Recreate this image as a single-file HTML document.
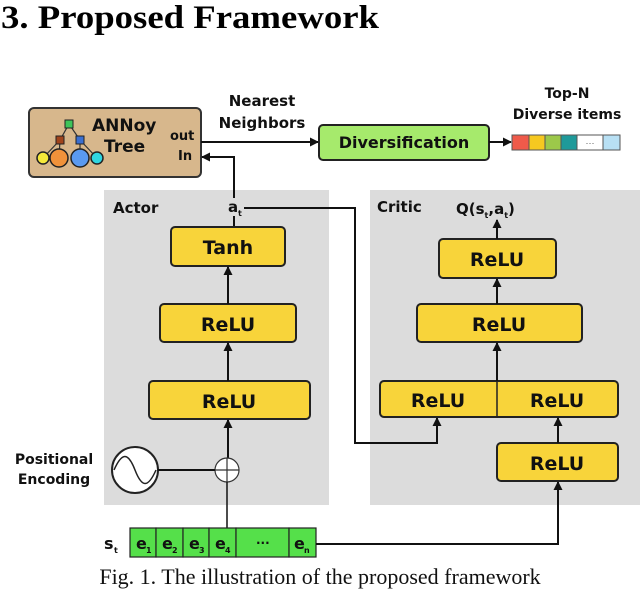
<!DOCTYPE html>
<html><head><meta charset="utf-8"><style>
html,body{margin:0;padding:0;background:#fff;}
svg{display:block;}
.t{font-family:"DejaVu Sans","Liberation Sans",sans-serif;font-weight:bold;fill:#111;}
.box{fill:#f8d43a;stroke:#222;stroke-width:2;}
</style></head><body>
<svg width="640" height="591" viewBox="0 0 640 591" xmlns="http://www.w3.org/2000/svg">
<defs>
<marker id="ah" markerWidth="9" markerHeight="9" refX="8" refY="4.5" orient="auto" markerUnits="userSpaceOnUse">
<path d="M0,0 L9,4.5 L0,9 Z" fill="#111"/></marker>
</defs>
<text x="1" y="28" font-family="Liberation Serif,serif" font-weight="bold" font-size="33" textLength="378" lengthAdjust="spacingAndGlyphs">3. Proposed Framework</text>

<!-- panels -->
<rect x="104" y="190" width="225" height="315" fill="#dcdcdc"/>
<rect x="370" y="190" width="270" height="315" fill="#dcdcdc"/>

<!-- ANNoy -->
<rect x="29" y="108" width="172" height="69" rx="5" fill="#d7b78c" stroke="#333" stroke-width="2"/>
<g stroke="#333" stroke-width="1.2">
<line x1="69" y1="124" x2="60" y2="140"/><line x1="69" y1="124" x2="80" y2="140"/>
<line x1="60" y1="140" x2="43" y2="158"/><line x1="60" y1="140" x2="59" y2="158"/>
<line x1="80" y1="140" x2="80" y2="158"/><line x1="80" y1="140" x2="97" y2="158"/>
</g>
<rect x="65" y="120" width="8" height="8" fill="#3dc45a" stroke="#222"/>
<rect x="56" y="136" width="8" height="8" fill="#a0441c" stroke="#222"/>
<rect x="76" y="136" width="8" height="8" fill="#3a6fd0" stroke="#222"/>
<circle cx="43" cy="158" r="6" fill="#f5e83a" stroke="#222" stroke-width="1.5"/>
<circle cx="59" cy="158" r="9" fill="#f0923a" stroke="#222" stroke-width="1.5"/>
<circle cx="80" cy="158" r="9" fill="#5a9af0" stroke="#222" stroke-width="1.5"/>
<circle cx="97" cy="158" r="6" fill="#2fd6e0" stroke="#222" stroke-width="1.5"/>
<text class="t" x="92" y="131" font-size="17">ANNoy</text>
<text class="t" x="104" y="152" font-size="17">Tree</text>
<text class="t" x="170" y="140" font-size="13">out</text>
<text class="t" x="178" y="160" font-size="13">In</text>

<text class="t" x="262" y="106" font-size="15" text-anchor="middle">Nearest</text>
<text class="t" x="262" y="128" font-size="15" text-anchor="middle">Neighbors</text>
<line x1="201" y1="142" x2="318" y2="142" stroke="#111" stroke-width="2" marker-end="url(#ah)"/>
<rect x="319" y="125" width="170" height="35" rx="4" fill="#a6ea6c" stroke="#222" stroke-width="2"/>
<text class="t" x="404" y="148" font-size="16" text-anchor="middle">Diversification</text>
<line x1="489" y1="142" x2="511" y2="142" stroke="#111" stroke-width="2" marker-end="url(#ah)"/>
<text class="t" x="567" y="98" font-size="14" text-anchor="middle" font-family="Liberation Sans,sans-serif">Top-N</text>
<text class="t" x="567" y="119" font-size="14" text-anchor="middle" font-family="Liberation Sans,sans-serif">Diverse items</text>
<g stroke="#555" stroke-width="1">
<rect x="512" y="135" width="17" height="15" fill="#ef5a4a"/>
<rect x="529" y="135" width="16" height="15" fill="#f6c820"/>
<rect x="545" y="135" width="16" height="15" fill="#9cc84a"/>
<rect x="561" y="135" width="16" height="15" fill="#1f9a9a"/>
<rect x="577" y="135" width="26" height="15" fill="#fff"/>
<rect x="603" y="135" width="17" height="15" fill="#b8e0f4"/>
</g>
<text x="590" y="146" font-size="9" text-anchor="middle" fill="#555" font-family="Liberation Sans,sans-serif">···</text>

<!-- in arrow -->
<polyline points="234,198 234,157 202,157" fill="none" stroke="#111" stroke-width="2" marker-end="url(#ah)"/>

<!-- actor -->
<text class="t" x="113" y="213" font-size="15">Actor</text>
<text class="t" x="228" y="212" font-size="15">a</text><text class="t" x="238" y="216" font-size="8">t</text>
<line x1="234" y1="216" x2="234" y2="227" stroke="#111" stroke-width="2"/>
<polyline points="244,208 355,208 355,443 437,443 437,418" fill="none" stroke="#111" stroke-width="2" marker-end="url(#ah)"/>
<rect class="box" x="171" y="227" width="114" height="39" rx="4"/>
<text class="t" x="228" y="254" font-size="19" text-anchor="middle">Tanh</text>
<rect class="box" x="160" y="304" width="136" height="38" rx="4"/>
<text class="t" x="228" y="331" font-size="19" text-anchor="middle">ReLU</text>
<rect class="box" x="149" y="381" width="161" height="38" rx="4"/>
<text class="t" x="229" y="408" font-size="19" text-anchor="middle">ReLU</text>
<line x1="228" y1="304" x2="228" y2="267" stroke="#111" stroke-width="2" marker-end="url(#ah)"/>
<line x1="228" y1="381" x2="228" y2="343" stroke="#111" stroke-width="2" marker-end="url(#ah)"/>
<line x1="228" y1="458" x2="228" y2="420" stroke="#111" stroke-width="2" marker-end="url(#ah)"/>
<circle cx="227" cy="470" r="12" fill="#fff" stroke="#333" stroke-width="1.2"/>
<path d="M215,470 H239 M227,458 V482" stroke="#333" stroke-width="1.2"/>
<line x1="227" y1="482" x2="227" y2="528" stroke="#111" stroke-width="1.5"/>
<circle cx="135" cy="470" r="23" fill="#fff" stroke="#222" stroke-width="2"/>
<path d="M114,470 C122,452 128,452 135,470 C142,488 148,488 156,470" fill="none" stroke="#222" stroke-width="1.5"/>
<line x1="158" y1="470" x2="215" y2="470" stroke="#111" stroke-width="2"/>
<text class="t" x="54" y="464" font-size="14" text-anchor="middle">Positional</text>
<text class="t" x="54" y="484" font-size="14" text-anchor="middle">Encoding</text>

<!-- st -->
<text class="t" x="104" y="549" font-size="16">s</text><text class="t" x="114" y="553" font-size="8">t</text>
<g stroke="#222" stroke-width="1.2" fill="#55e04a">
<rect x="130" y="528" width="26" height="29"/><rect x="156" y="528" width="27" height="29"/>
<rect x="183" y="528" width="26" height="29"/><rect x="209" y="528" width="27" height="29"/>
<rect x="236" y="528" width="53" height="29"/><rect x="289" y="528" width="27" height="29"/>
</g>
<g class="t" font-size="16">
<text x="136" y="549">e</text><text x="146" y="553" font-size="8">1</text>
<text x="162" y="549">e</text><text x="172" y="553" font-size="8">2</text>
<text x="189" y="549">e</text><text x="199" y="553" font-size="8">3</text>
<text x="215" y="549">e</text><text x="225" y="553" font-size="8">4</text>
<text x="256" y="547" font-size="12">···</text>
<text x="294" y="549">e</text><text x="304" y="553" font-size="8">n</text>
</g>
<polyline points="316,544 558,544 558,482" fill="none" stroke="#111" stroke-width="2" marker-end="url(#ah)"/>

<!-- critic -->
<text class="t" x="377" y="212" font-size="15">Critic</text>
<text class="t" x="456" y="214" font-size="15">Q(s<tspan font-size="8" dy="4">t</tspan><tspan dy="-4">,a</tspan><tspan font-size="8" dy="4">t</tspan><tspan dy="-4">)</tspan></text>
<rect class="box" x="439" y="239" width="117" height="39" rx="4"/>
<text class="t" x="497" y="266" font-size="19" text-anchor="middle">ReLU</text>
<rect class="box" x="417" y="304" width="165" height="38" rx="4"/>
<text class="t" x="499" y="331" font-size="19" text-anchor="middle">ReLU</text>
<rect class="box" x="380" y="381" width="238" height="36" rx="4"/>
<line x1="497" y1="381" x2="497" y2="417" stroke="#222" stroke-width="1.5"/>
<text class="t" x="438" y="407" font-size="19" text-anchor="middle">ReLU</text>
<text class="t" x="557" y="407" font-size="19" text-anchor="middle">ReLU</text>
<rect class="box" x="497" y="443" width="121" height="38" rx="4"/>
<text class="t" x="557" y="470" font-size="19" text-anchor="middle">ReLU</text>
<line x1="558" y1="443" x2="558" y2="418" stroke="#111" stroke-width="2" marker-end="url(#ah)"/>
<line x1="497" y1="381" x2="497" y2="343" stroke="#111" stroke-width="2" marker-end="url(#ah)"/>
<line x1="497" y1="304" x2="497" y2="279" stroke="#111" stroke-width="2" marker-end="url(#ah)"/>
<line x1="497" y1="239" x2="497" y2="220" stroke="#111" stroke-width="2" marker-end="url(#ah)"/>

<text x="320" y="584" font-family="Liberation Serif,serif" font-size="22" text-anchor="middle" fill="#111">Fig. 1. The illustration of the proposed framework</text>
</svg>
</body></html>
